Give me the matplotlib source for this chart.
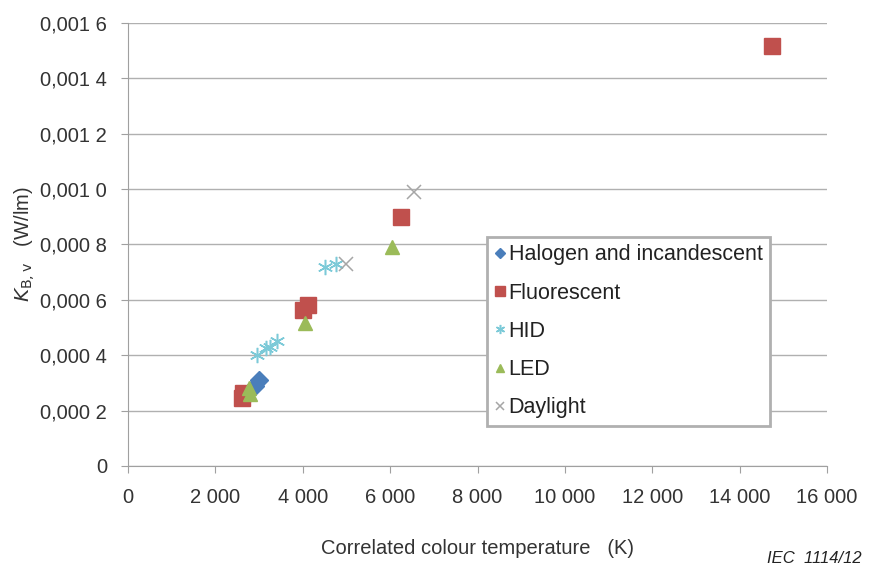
import matplotlib.pyplot as plt
from matplotlib.ticker import FixedLocator, FixedFormatter

plt.rcParams['font.family'] = ['Liberation Sans', 'DejaVu Sans']

# data
halogen_x = [2900, 3000]
halogen_y = [0.00029, 0.00031]
fluor_x = [2620, 2640, 4000, 4120, 6250, 14750]
fluor_y = [0.000245, 0.000265, 0.000565, 0.00058, 0.0009, 0.001515]
hid_x = [2950, 3150, 3250, 3400, 4500, 4750]
hid_y = [0.0004, 0.000425, 0.00043, 0.00045, 0.00072, 0.00073]
led_x = [2800, 2780, 4050, 6050]
led_y = [0.00026, 0.00028, 0.000515, 0.00079]
day_x = [5000, 6550]
day_y = [0.00073, 0.00099]

xticks = [0, 2000, 4000, 6000, 8000, 10000, 12000, 14000, 16000]
xticklabels = ['0', '2 000', '4 000', '6 000', '8 000', '10 000', '12 000', '14 000', '16 000']
yticks = [0, 0.0002, 0.0004, 0.0006, 0.0008, 0.0010, 0.0012, 0.0014, 0.0016]
yticklabels = ['0', '0,000 2', '0,000 4', '0,000 6', '0,000 8', '0,001 0', '0,001 2', '0,001 4', '0,001 6']

fig = plt.figure(figsize=(8.85, 5.68), dpi=100)
ax = fig.add_axes([0.1446, 0.1796, 0.79, 0.78])

ax.plot(halogen_x, halogen_y, ls='none', marker='D', ms=9, color='#4a7ebb', label='Halogen and incandescent')
ax.plot(fluor_x, fluor_y, ls='none', marker='s', ms=11, color='#c0504d', label='Fluorescent')
ax.plot(hid_x, hid_y, ls='none', marker=(6, 2, 0), ms=11, mew=1.1, color='#7ccad8', label='HID')
ax.plot(led_x, led_y, ls='none', marker='^', ms=10, color='#9bbb59', label='LED')
ax.plot(day_x, day_y, ls='none', marker='x', ms=10, mew=1.1, color='#a6a6a6', label='Daylight')

ax.set_xlim(0, 16000)
ax.set_ylim(0, 0.0016)
ax.xaxis.set_major_locator(FixedLocator(xticks))
ax.xaxis.set_major_formatter(FixedFormatter(xticklabels))
ax.yaxis.set_major_locator(FixedLocator(yticks))
ax.yaxis.set_major_formatter(FixedFormatter(yticklabels))

ax.grid(axis='y', color='#b0b0b0', lw=1)
ax.set_axisbelow(True)
for s in ['top', 'right']:
    ax.spines[s].set_visible(False)
for s in ['left', 'bottom']:
    ax.spines[s].set_color('#a0a0a0')
ax.tick_params(colors='#a0a0a0', labelcolor='#333333', labelsize=14.5, length=5, direction='out')
ax.tick_params(axis='x', pad=11)
ax.tick_params(axis='y', pad=10)

ax.set_xlabel('Correlated colour temperature   (K)', fontsize=14.5, color='#333333', labelpad=23)
ax.set_ylabel(r'$K_{\mathrm{B,v}}$   (W/lm)', fontsize=14.5, color='#333333', labelpad=2)

leg = ax.legend(loc='upper left', bbox_to_anchor=(0.5136, 0.517), borderaxespad=0, fontsize=15.5,
                markerscale=0.6, handlelength=0.5, handletextpad=0.15, labelspacing=0.8, borderpad=0.35,
                fancybox=False, framealpha=1, edgecolor='#b0b0b0', labelcolor='#222222')
leg.get_frame().set_linewidth(2)

fig.text(0.974, 0.003, 'IEC  1114/12', fontsize=12, style='italic', ha='right', va='bottom', color='#222222')

fig.savefig('out.png', dpi=100)
